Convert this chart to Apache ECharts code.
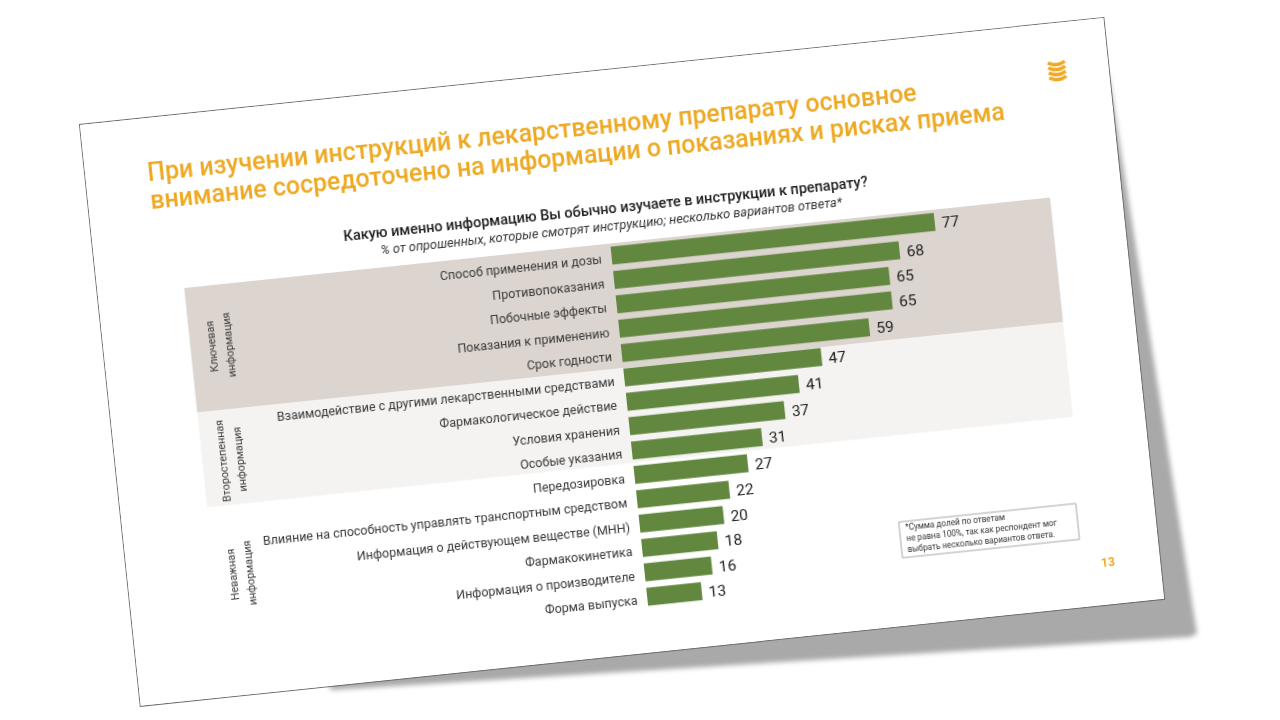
<!DOCTYPE html>
<html lang="ru">
<head>
<meta charset="utf-8">
<title>Инструкции к препаратам</title>
<style>
  html, body { margin: 0; padding: 0; width: 1280px; height: 720px; background: #fff; overflow: hidden; }
  #shadowWrap { position: absolute; left: 0; top: 0; width: 1280px; height: 720px; filter: blur(2.5px); }
  #shadow { width: 100%; height: 100%; background: #a9a9a9;
    clip-path: polygon(1108px 70px, 1197px 634px, 1190px 637px, 330px 690px, 330px 680px, 1100px 590px); }
  #sheet { position: absolute; left: 80px; top: 125px; width: 1029px; height: 584px; background: #fff;
    transform-origin: 0 0; transform: rotate(-5.97deg); outline: 1px solid #6e6e6e; }
  #chart { width: 1029px; height: 584px; }
</style>
</head>
<body>
<div id="shadowWrap"><div id="shadow"></div></div>
<div id="sheet"><div id="chart"></div></div>
<script src="https://cdn.jsdelivr.net/npm/echarts@6/dist/echarts.min.js"></script>
<script>
const categories = [
  'Способ применения и дозы', 'Противопоказания', 'Побочные эффекты', 'Показания к применению',
  'Срок годности', 'Взаимодействие с другими лекарственными средствами', 'Фармакологическое действие',
  'Условия хранения', 'Особые указания', 'Передозировка',
  'Влияние на способность управлять транспортным средством', 'Информация о действующем веществе (МНН)',
  'Фармакокинетика', 'Информация о производителе', 'Форма выпуска'
];
const values = [77, 68, 65, 65, 59, 47, 41, 37, 31, 27, 22, 20, 18, 16, 13];

// Importance groups: first row edge, last row edge, band colour.
const bandEdges = [[0, 5.1], [5.1, 9]];
const bandColors = ['#dcd5cf', '#f4f3f1'];
const groupNames = ['Ключевая\nинформация', 'Второстепенная\nинформация', 'Неважная\nинформация'];

const titleLines = 'При изучении инструкций к лекарственному препарату основное\nвнимание сосредоточено на информации о показаниях и рисках приема';
const questionText = 'Какую именно информацию Вы обычно изучаете в инструкции к препарату?';
const basisText = '% от опрошенных, которые смотрят инструкцию; несколько вариантов ответа*';
const footnoteText = '*Сумма долей по ответам\nне равна 100%, так как респондент мог\nвыбрать несколько вариантов ответа.';
const pageNumber = '13';

const FONT = 'Roboto, "Liberation Sans", Arial, sans-serif';
const ORANGE = '#eda923';

const chart = echarts.init(document.getElementById('chart'), null, { renderer: 'canvas' });

// Bands reach past the plot on both sides, expressed in value-axis units.
const BAND_FROM = -101.5, BAND_TO = 104.8;

function renderBand(params, api) {
  const i = api.value(0);
  const first = api.coord([0, 0])[1];
  const step = api.size([0, 1])[1];
  const x0 = api.coord([BAND_FROM, 0])[0];
  const x1 = api.coord([BAND_TO, 0])[0];
  const y0 = first + (bandEdges[i][0] - 0.5) * step;
  const y1 = first + (bandEdges[i][1] - 0.5) * step;
  return {
    type: 'rect',
    shape: { x: x0, y: y0, width: x1 - x0, height: y1 - y0 },
    style: { fill: bandColors[i] }
  };
}

const groupLabels = groupNames.map((name, i) => ({
  type: 'text',
  x: [118, 117, 115][i], y: [234, 349, 463][i],
  rotation: Math.PI / 2,
  z: 5,
  style: { text: name, font: '10.8px ' + FONT, fill: '#3a3a3a', align: 'center', verticalAlign: 'middle', lineHeight: 17 }
}));

// Stacked-coins mark in the corner of the sheet.
const logoStrokes = [0, 5, 10, 15].map(y => ({
  type: 'bezierCurve',
  x: 969, y: 37 + y,
  shape: { x1: 0, y1: 2, x2: 17, y2: 2, cpx1: 8.5, cpy1: 7 },
  style: { stroke: ORANGE, lineWidth: 3.4, fill: null, lineCap: 'butt' }
}));

chart.setOption({
  animation: false,
  backgroundColor: '#fff',
  title: [
    { text: titleLines, left: 62, top: 43, padding: 0,
      textStyle: { fontFamily: FONT, fontSize: 25, fontWeight: 500, color: ORANGE, lineHeight: 28 } },
    { text: questionText, left: 514, top: 132, textAlign: 'center', padding: 0,
      textStyle: { fontFamily: FONT, fontSize: 14.5, fontWeight: 500, color: '#1c1c1c' } },
    { text: basisText, left: 518, top: 150, textAlign: 'center', padding: 0,
      textStyle: { fontFamily: FONT, fontSize: 12.8, fontWeight: 'normal', fontStyle: 'italic', color: '#333' } }
  ],
  grid: { left: 515, top: 173, width: 422, height: 367.5 },
  xAxis: { type: 'value', min: 0, max: 100, show: false },
  yAxis: {
    type: 'category', data: categories, inverse: true, z: 5,
    axisLine: { show: false }, axisTick: { show: false },
    axisLabel: { fontFamily: FONT, fontSize: 12.5, color: '#383838', margin: 10, verticalAlign: 'top', lineHeight: 8 }
  },
  series: [
    {
      type: 'custom', renderItem: renderBand, z: 1, silent: true,
      coordinateSystem: 'cartesian2d',
      encode: { x: 1, y: 0 },
      data: bandEdges.map((e, i) => [i, 0])
    },
    {
      type: 'bar', data: values, barWidth: 18, z: 3,
      itemStyle: { color: '#62873f' },
      label: { show: true, position: 'right', distance: 7, offset: [0, 3], fontFamily: FONT, fontSize: 15.5, fontWeight: 400, color: '#1e1e1e' }
    }
  ],
  graphic: [
    ...groupLabels,
    ...logoStrokes,
    { type: 'rect', shape: { x: 773, y: 480, width: 178, height: 36 },
      style: { fill: '#fff', stroke: '#a8a8a8', lineWidth: 1 }, z: 4 },
    { type: 'text', x: 779, y: 498, z: 5,
      style: { text: footnoteText, font: '8.2px ' + FONT, fill: '#333', lineHeight: 11, verticalAlign: 'middle' } },
    { type: 'text', x: 977, y: 543, z: 5,
      style: { text: pageNumber, font: 'bold 12px ' + FONT, fill: ORANGE, align: 'center', verticalAlign: 'middle' } }
  ]
});
</script>
</body>
</html>
